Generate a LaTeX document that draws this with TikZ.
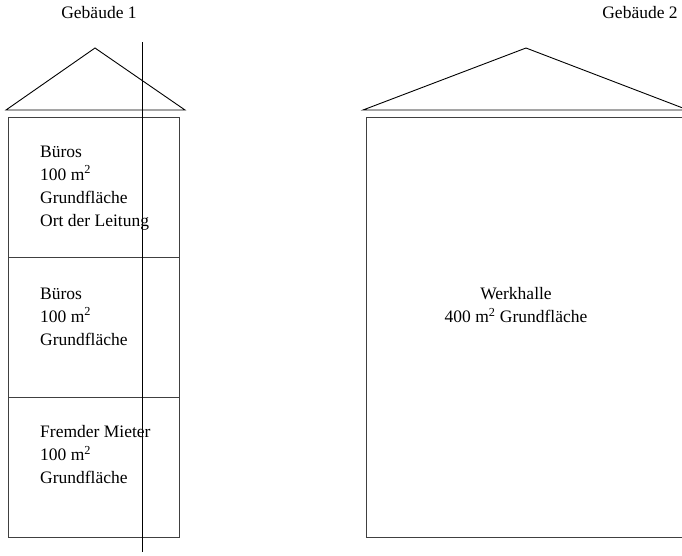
\documentclass[tikz,border=0pt]{standalone}
\usepackage{fontspec}
\setmainfont{Liberation Serif}
\begin{document}
\begin{tikzpicture}[x=1pt,y=-1pt,
  lbl/.style={font=\fontsize{17.5}{23}\selectfont, inner sep=0pt},
  roofline/.style={line width=0.9pt, black},
  boxline/.style={line width=1pt, black!75},
  txt/.style={lbl, anchor=north west, align=left}]
\useasboundingbox (0,0) rectangle (682,555);
% Building 1
\node[lbl, anchor=base] (g1) at (99,18) {Gebäude 1};
\coordinate (r1a) at (95,48);
\coordinate (r1l) at (6,110);
\coordinate (r1r) at (185,110);
\draw[roofline] (r1l) -- (r1a) -- (r1r) -- cycle;
\draw[boxline] (8,117) rectangle (179,537);
\draw[boxline] (8,257) -- (179,257);
\draw[boxline] (8,397) -- (179,397);
\node[txt] (t1) at (40,145.4) {Büros\\100 m\textsuperscript{2}\\Grundfläche\\Ort der Leitung};
\node[txt] (t2) at (40,287.4) {Büros\\100 m\textsuperscript{2}\\Grundfläche};
\node[txt] (t3) at (40,425.4) {Fremder Mieter\\100 m\textsuperscript{2}\\Grundfläche};
\coordinate (vt) at (142,42);
\coordinate (vb) at (142,552);
\draw[line width=0.9pt] (vt) -- (vb);
% Building 2
\node[lbl, anchor=base] (g2) at (640,18) {Gebäude 2};
\coordinate (r2a) at (526,48);
\coordinate (r2l) at (363,110);
\coordinate (r2r) at (688,110);
\draw[roofline] (r2l) -- (r2a) -- (r2r) -- cycle;
\draw[boxline] (366,117) rectangle (690,537);
\node[lbl, align=center] (wh) at (516,305) {Werkhalle\\400 m\textsuperscript{2} Grundfläche};
\end{tikzpicture}
\end{document}
